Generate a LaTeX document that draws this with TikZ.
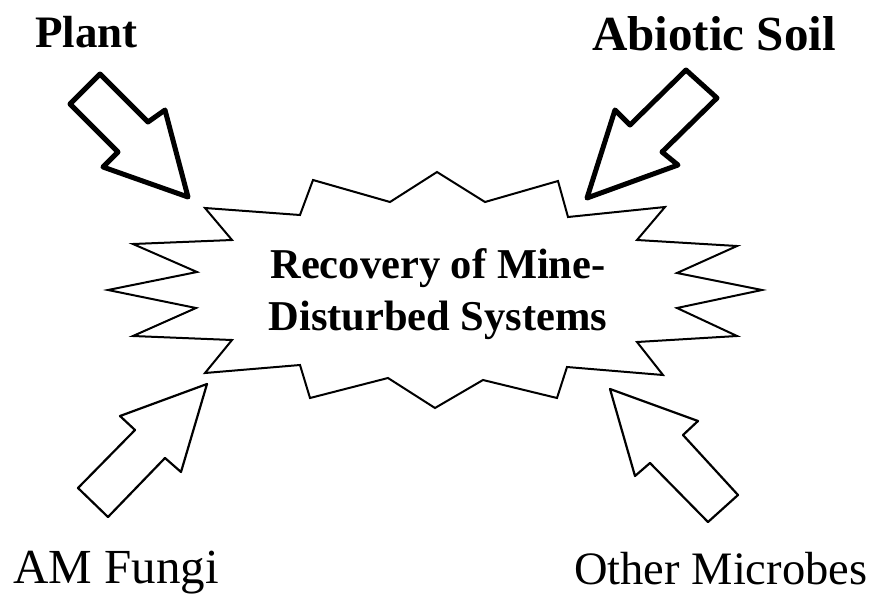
\documentclass[tikz,border=0pt]{standalone}
\usepackage{fontspec}
\setmainfont{Liberation Serif}
\begin{document}
\begin{tikzpicture}[x=1pt,y=-1pt,
  thickarrow/.style={draw=black,line width=5pt,line join=round,fill=white},
  thinarrow/.style={draw=black,line width=2.2pt,line join=round,fill=white},
  burst/.style={draw=black,line width=2pt,line join=miter,fill=white},
  lbl/.style={anchor=base west,inner sep=0pt},
  title/.style={align=center,inner sep=0pt,font=\fontsize{42.5}{52}\selectfont\bfseries}]
\useasboundingbox (0,0) rectangle (879,595);
% starburst
\draw[burst] (205,208) -- (300,215) -- (313,180) -- (390,202) -- (437,172) -- (485,202)
  -- (558,181) -- (568,217) -- (665,207) -- (637,240) -- (737,246) -- (677,273)
  -- (762,290) -- (677,308) -- (737,336) -- (637,342) -- (663,375) -- (567,367)
  -- (557,398) -- (483,380) -- (435,408) -- (388,378) -- (310,398) -- (300,365)
  -- (205,373) -- (232,340) -- (133,336) -- (196,308) -- (108,290) -- (197,272)
  -- (133,244) -- (232,240) -- cycle;
\node[title] (center) at (438,294) {Recovery of Mine-\\Disturbed Systems};
% labels
\node[lbl,font=\fontsize{45}{50}\selectfont\bfseries] (plant) at (35,47) {Plant};
\node[lbl,font=\fontsize{49}{55}\selectfont\bfseries] (soil) at (592,50) {Abiotic Soil};
\node[lbl,font=\fontsize{49}{55}\selectfont] (fungi) at (13,583) {AM Fungi};
\node[lbl,font=\fontsize{46.5}{52}\selectfont] (microbes) at (574,584) {Other Microbes};
% arrows
\draw[thickarrow] (100,74) -- (148,122) -- (165,110) -- (188,197) -- (103,167)
  -- (118,152) -- (70,104) -- cycle;
\draw[thickarrow] (686,70) -- (630,125) -- (615,110) -- (587,198) -- (678,165)
  -- (662,152) -- (717,98) -- cycle;
\draw[thinarrow] (78,488) -- (135,430) -- (120,416) -- (207,384) -- (181,472)
  -- (165,458) -- (108,517) -- cycle;
\draw[thinarrow] (738,495) -- (683,435) -- (698,421) -- (610,389) -- (635,476)
  -- (650,463) -- (708,522) -- cycle;
\end{tikzpicture}
\end{document}
